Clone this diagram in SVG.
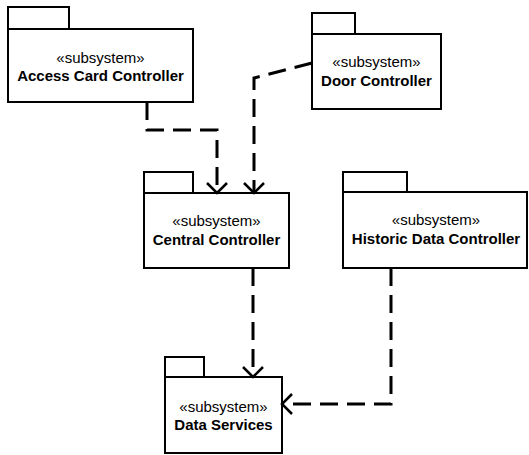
<svg xmlns="http://www.w3.org/2000/svg" width="529" height="455" viewBox="0 0 529 455">
  <style>
    .frame { fill: #ffffff; stroke: #000000; stroke-width: 2; }
    .stereo { font-family: "Liberation Sans", Arial, sans-serif; font-size: 15px; text-anchor: middle; fill: #000000; }
    .name { font-family: "Liberation Sans", Arial, sans-serif; font-size: 15px; font-weight: bold; text-anchor: middle; fill: #000000; }
    .dep { fill: none; stroke: #000000; stroke-width: 3; stroke-dasharray: 18 9; marker-end: url(#open-arrow); }
  </style>
  <defs>
    <marker id="open-arrow" markerUnits="userSpaceOnUse" markerWidth="24" markerHeight="24" viewBox="-12 -12 24 24" refX="0" refY="0" orient="auto">
      <path d="M -10 -10 L 0 0 L -10 10" fill="none" stroke="#000000" stroke-width="2.5"/>
    </marker>
  </defs>

  <!-- package nodes: tab + body -->
  <g id="access-card-controller">
    <rect class="frame" x="8" y="7" width="61" height="22"/>
    <rect class="frame" x="8" y="29" width="185" height="73"/>
    <text class="stereo" x="100.5" y="63">«subsystem»</text>
    <text class="name" x="100.5" y="81">Access Card Controller</text>
  </g>

  <g id="door-controller">
    <rect class="frame" x="312" y="13" width="43" height="21"/>
    <rect class="frame" x="312" y="34" width="129" height="75"/>
    <text class="stereo" x="376.5" y="67">«subsystem»</text>
    <text class="name" x="376.5" y="86">Door Controller</text>
  </g>

  <g id="central-controller">
    <rect class="frame" x="144" y="172" width="49" height="21"/>
    <rect class="frame" x="144" y="193" width="145" height="75"/>
    <text class="stereo" x="216.5" y="226">«subsystem»</text>
    <text class="name" x="216.5" y="245">Central Controller</text>
  </g>

  <g id="historic-data-controller">
    <rect class="frame" x="343" y="172" width="64" height="20"/>
    <rect class="frame" x="343" y="192" width="184" height="76"/>
    <text class="stereo" x="436" y="225">«subsystem»</text>
    <text class="name" x="436" y="244">Historic Data Controller</text>
  </g>

  <g id="data-services">
    <rect class="frame" x="165" y="357" width="39" height="20"/>
    <rect class="frame" x="165" y="377" width="117" height="76"/>
    <text class="stereo" x="223.5" y="412">«subsystem»</text>
    <text class="name" x="223.5" y="430">Data Services</text>
  </g>

  <!-- dependency connectors -->
  <g id="connectors">
    <path class="dep" d="M 147 102 L 147 130 L 217 130 L 217 193"/>
    <path class="dep" d="M 312 63 L 254 78 L 254 193"/>
    <path class="dep" d="M 253 268 L 253 377"/>
    <path class="dep" d="M 391 268 L 391 404 L 282 404"/>
  </g>
</svg>
